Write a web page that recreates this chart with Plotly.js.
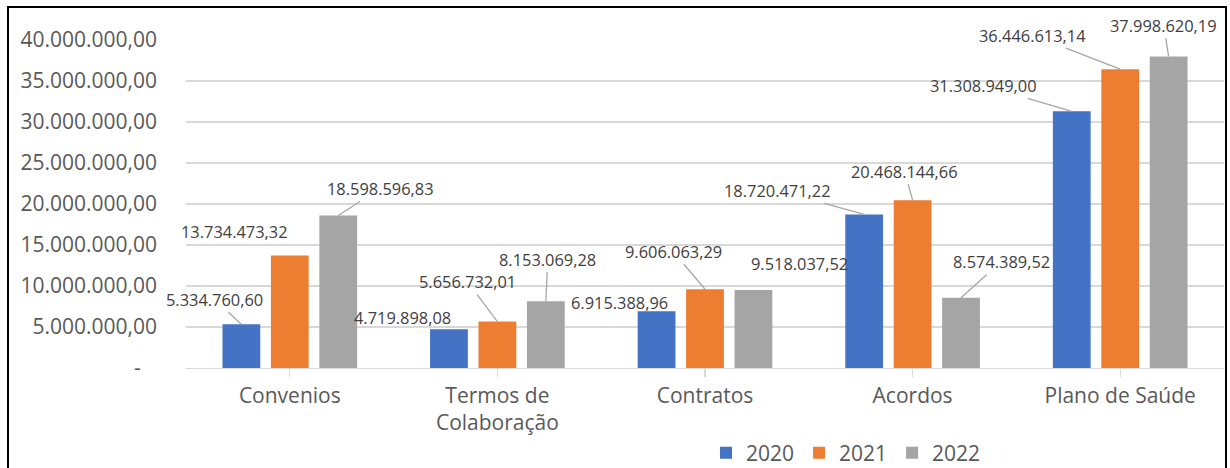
<!DOCTYPE html>
<html>
<head>
<meta charset="utf-8">
<script src="https://cdn.plot.ly/plotly-3.0.1.min.js"></script>
<style>
  html, body { margin: 0; padding: 0; width: 1230px; height: 468px; overflow: hidden; background: #fff; }
  #chart { position: absolute; left: 0; top: 0; width: 1230px; height: 468px; }
  #frame { position: absolute; left: 7px; top: 6px; width: 1216px; height: 520px; border: 2px solid #000; pointer-events: none; }
</style>
</head>
<body>
<div id="chart"></div>
<div id="frame"></div>
<script>
// ---- data ----
const categories = ["Convenios", "Termos de<br>Colaboração", "Contratos", "Acordos", "Plano de Saúde"];
const seriesNames = ["2020", "2021", "2022"];
const values2020 = [5334760.60, 4719898.08, 6915388.96, 18720471.22, 31308949.00];
const values2021 = [13734473.32, 5656732.01, 9606063.29, 20468144.66, 36446613.14];
const values2022 = [18598596.83, 8153069.28, 9518037.52, 8574389.52, 37998620.19];
const yTickVals = [0, 5000000, 10000000, 15000000, 20000000, 25000000, 30000000, 35000000, 40000000];

// ---- styling / label placement (pixel offsets from bar top to label centre) ----
const colors = ["#4472C4", "#ED7D31", "#A5A5A5"];
const labelOffsets = [
  [[-27, -25, true], [-46, -12, false], [-37, -9, false], [-87, -24, true], [-88, -26, true]],
  [[-55, -24, false], [-30, -40, true], [-32, -38, true], [-8, -29, true], [-88, -34, true]],
  [[42, -27, true], [2, -42, true], [46, -26, false], [40, -36, true], [-5, -31, true]]
];

function fmtBR(v, dec) {
  const fixed = v.toFixed(dec);
  const parts = fixed.split(".");
  const intPart = parts[0].replace(/\B(?=(\d{3})+(?!\d))/g, ".");
  return dec > 0 ? intPart + "," + parts[1] : intPart;
}

const allSeries = [values2020, values2021, values2022];
const bargap = 0.30;
const slot = (1 - bargap) / allSeries.length;

const traces = allSeries.map((vals, j) => ({
  type: "bar",
  name: seriesNames[j],
  x: categories.map((c, i) => i),
  y: vals,
  marker: { color: colors[j] },
  hoverinfo: "none"
}));

const annotations = [];
allSeries.forEach((vals, j) => {
  vals.forEach((v, i) => {
    const off = labelOffsets[j][i];
    annotations.push({
      x: i + (j - 1) * slot,
      y: v,
      xref: "x", yref: "y",
      text: fmtBR(v, 2),
      showarrow: true,
      arrowhead: 0,
      arrowwidth: 1.3,
      arrowcolor: off[2] ? "#A6A6A6" : "rgba(0,0,0,0)",
      ax: off[0], ay: off[1],
      standoff: 0,
      font: { family: "Open Sans, sans-serif", size: 16.4, color: "#404040" }
    });
  });
});

const layout = {
  width: 1230, height: 468,
  margin: { l: 186, r: 6, t: 40, b: 100, autoexpand: false },
  paper_bgcolor: "#ffffff",
  plot_bgcolor: "#ffffff",
  barmode: "group",
  bargap: bargap,
  bargroupgap: 0.22,
  showlegend: true,
  legend: {
    orientation: "h",
    xref: "container", yref: "container",
    x: 0.574, xanchor: "left",
    y: 0.032, yanchor: "middle",
    font: { family: "Open Sans, sans-serif", size: 21, color: "#595959" },
    itemwidth: 30,
    tracegroupgap: 0
  },
  xaxis: {
    tickmode: "array",
    tickvals: categories.map((c, i) => i),
    ticktext: categories,
    range: [-0.5, categories.length - 0.5],
    showgrid: false,
    showline: true,
    linecolor: "#D9D9D9",
    linewidth: 1.3,
    ticks: "outside",
    ticklen: 8,
    tickcolor: "#D9D9D9",
    tickwidth: 1.3,
    tickson: "boundaries",
    zeroline: false,
    automargin: false,
    tickfont: { family: "Open Sans, sans-serif", size: 21, color: "#595959" },
    fixedrange: true
  },
  yaxis: {
    range: [0, 40000000],
    tickmode: "array",
    tickvals: yTickVals,
    ticktext: yTickVals.map(v => v === 0 ? "-\u00a0\u00a0\u00a0" : fmtBR(v, 2)),
    showgrid: true,
    gridcolor: "#D9D9D9",
    gridwidth: 1.3,
    zeroline: false,
    showline: false,
    ticks: "",
    automargin: false,
    ticklabelstandoff: 28,
    tickfont: { family: "Open Sans, sans-serif", size: 21, color: "#595959" },
    fixedrange: true
  },
  annotations: annotations
};

Plotly.newPlot("chart", traces, layout, { displayModeBar: false, staticPlot: true });
</script>
</body>
</html>
